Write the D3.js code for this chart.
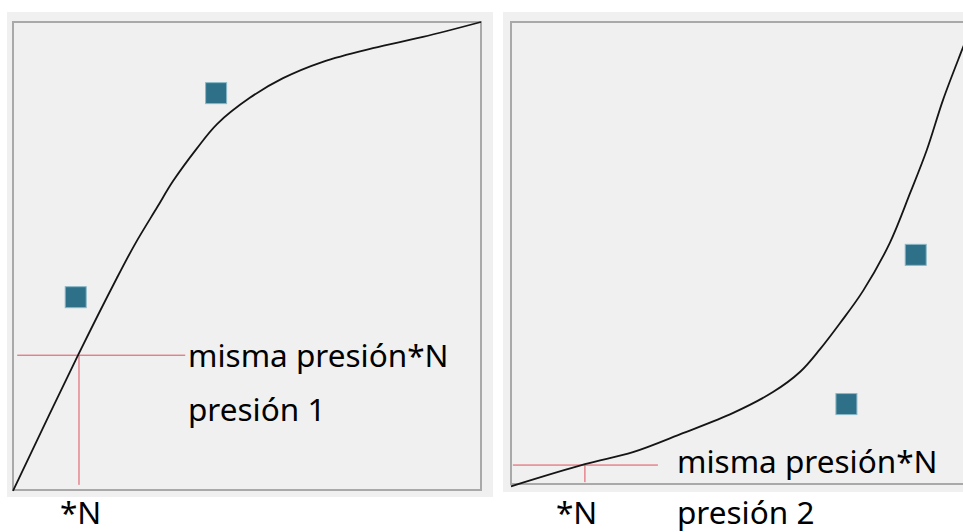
<!DOCTYPE html>
<html>
<head>
<meta charset="utf-8">
<script src="https://cdn.jsdelivr.net/npm/d3@7"></script>
<style>
  body { margin: 0; background: #fff; }
  text { font-family: "Noto Sans", "Open Sans", sans-serif; fill: #000; }
</style>
</head>
<body>
<div id="chart"></div>
<script>
// Panel 1 data (units 0..100 on both axes)
var curve1X = [0, 13.9, 22.2, 26.1, 30.8, 34.2, 39.3, 43.6, 50.6, 57.7, 66.2, 76.9, 87.6, 100];
var curve1Y = [-0.2, 28.8, 45.3, 52.6, 60.4, 66.0, 73.0, 78.2, 83.8, 88.0, 91.5, 94.4, 96.8, 100];
var points1X = [13.4, 43.4];
var points1Y = [41.2, 84.8];
var cross1 = { x: 14.1, y: 28.8, hFrom: 0.9, hTo: 36.8, vTo: 1.1 };

// Panel 2 data
var curve2X = [0, 16.0, 26.4, 37.2, 48.1, 56.7, 62.6, 66.9, 71.2, 76.2, 82.0, 86.4, 90.0, 93.5, 97.6, 100];
var curve2Y = [-0.5, 4.3, 6.9, 11.0, 15.4, 19.9, 24.3, 29.2, 34.8, 41.8, 52.2, 63.0, 72.3, 83.1, 93.9, 100];
var points2X = [72.6, 87.6];
var points2Y = [17.3, 49.6];
var cross2 = { x: 16.0, y: 4.1, hFrom: 0.4, hTo: 31.8, vTo: 0.4 };

// Labels
var labelSame = 'misma presión*N';
var labelN = '*N';
var pressureLabels = ['presión 1', 'presión 2'];

var svgWidth = 963;
var svgHeight = 532;

var svg = d3.select('#chart')
    .append('svg')
    .attr('width', svgWidth)
    .attr('height', svgHeight);

function drawPanel(p) {
    var g = svg.append('g');

    // outer frame
    g.append('rect')
        .attr('x', p.outer[0]).attr('y', p.outer[1])
        .attr('width', p.outer[2]).attr('height', p.outer[3])
        .attr('fill', '#f0f0f0');

    var x = d3.scaleLinear().domain([0, 100]).range([p.left, p.right]);
    var y = d3.scaleLinear().domain([0, 100]).range([p.bottom, p.top]);

    // plot border
    g.append('rect')
        .attr('x', p.left).attr('y', p.top)
        .attr('width', p.right - p.left).attr('height', p.bottom - p.top)
        .attr('fill', '#f0f0f0')
        .attr('stroke', '#a9a9a9')
        .attr('stroke-width', 2);

    // crosshair
    var c = p.cross;
    g.append('line')
        .attr('x1', x(c.hFrom)).attr('x2', x(c.hTo))
        .attr('y1', y(c.y)).attr('y2', y(c.y))
        .attr('stroke', '#e0505e').attr('stroke-width', 1);
    g.append('line')
        .attr('x1', x(c.x)).attr('x2', x(c.x))
        .attr('y1', y(c.y)).attr('y2', y(c.vTo))
        .attr('stroke', '#e0505e').attr('stroke-width', 1);

    // curve
    var pts = p.cx.map((d, i) => [d, p.cy[i]]);
    var line = d3.line()
        .x(d => x(d[0]))
        .y(d => y(d[1]))
        .curve(d3.curveCatmullRom.alpha(0.5));
    g.append('path')
        .datum(pts)
        .attr('d', line)
        .attr('fill', 'none')
        .attr('stroke', '#151515')
        .attr('stroke-width', 1.8);

    // square markers
    var sq = 21;
    g.selectAll('rect.pt')
        .data(p.px.map((d, i) => [d, p.py[i]]))
        .enter()
        .append('rect')
        .classed('pt', true)
        .attr('x', d => x(d[0]) - sq / 2)
        .attr('y', d => y(d[1]) - sq / 2)
        .attr('width', sq)
        .attr('height', sq)
        .attr('fill', '#2e7088')
        .attr('stroke', '#8ab8c6')
        .attr('stroke-width', 1);

    // texts
    g.append('text')
        .attr('x', p.sameXY[0]).attr('y', p.sameXY[1])
        .style('font-size', '31.5px')
        .text(labelSame);
    g.append('text')
        .attr('x', p.presXY[0]).attr('y', p.presXY[1])
        .style('font-size', '31.5px')
        .text(p.presLabel);
    g.append('text')
        .attr('x', p.nXY[0]).attr('y', p.nXY[1])
        .style('font-size', '31.5px')
        .text(labelN);
}

drawPanel({
    outer: [7, 12, 486, 485],
    left: 13, right: 481, top: 22, bottom: 490,
    cx: curve1X, cy: curve1Y, px: points1X, py: points1Y,
    cross: cross1,
    sameXY: [188, 367], presXY: [188, 421], nXY: [60, 524],
    presLabel: pressureLabels[0]
});

drawPanel({
    outer: [503, 12, 470, 480],
    left: 511, right: 973, top: 22, bottom: 484,
    cx: curve2X, cy: curve2Y, px: points2X, py: points2Y,
    cross: cross2,
    sameXY: [677, 473], presXY: [677, 524], nXY: [556, 524],
    presLabel: pressureLabels[1]
});
</script>
</body>
</html>
